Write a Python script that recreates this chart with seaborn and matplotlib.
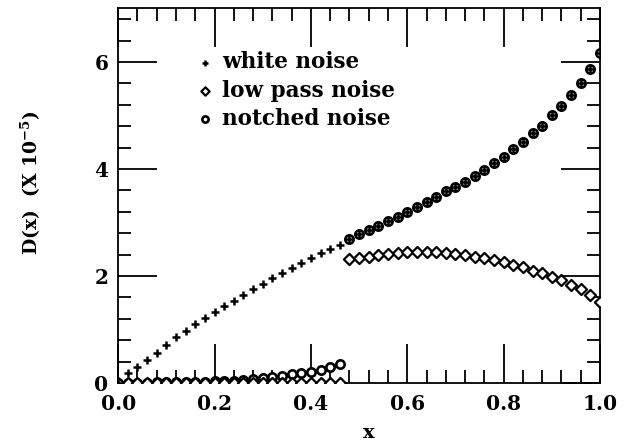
import numpy as np
import pandas as pd
import seaborn as sns
import matplotlib.pyplot as plt
from matplotlib.ticker import MultipleLocator

# x grid (step 0.02)
x_vals = [0.00, 0.02, 0.04, 0.06, 0.08, 0.10, 0.12, 0.14, 0.16, 0.18,
          0.20, 0.22, 0.24, 0.26, 0.28, 0.30, 0.32, 0.34, 0.36, 0.38,
          0.40, 0.42, 0.44, 0.46, 0.48, 0.50, 0.52, 0.54, 0.56, 0.58,
          0.60, 0.62, 0.64, 0.66, 0.68, 0.70, 0.72, 0.74, 0.76, 0.78,
          0.80, 0.82, 0.84, 0.86, 0.88, 0.90, 0.92, 0.94, 0.96, 0.98, 1.00]

white_noise = [0.00, 0.18, 0.30, 0.43, 0.56, 0.71, 0.86, 0.98, 1.10, 1.22,
               1.33, 1.44, 1.54, 1.64, 1.75, 1.85, 1.96, 2.05, 2.14, 2.24,
               2.34, 2.42, 2.50, 2.58, 2.69, 2.78, 2.86, 2.93, 3.03, 3.11,
               3.20, 3.28, 3.38, 3.48, 3.58, 3.66, 3.76, 3.87, 3.98, 4.11,
               4.23, 4.37, 4.51, 4.67, 4.81, 5.00, 5.18, 5.38, 5.61, 5.87, 6.16]

low_pass_noise = [0.00, 0.00, 0.00, 0.00, 0.00, 0.00, 0.00, 0.00, 0.00, 0.00,
                  0.00, 0.00, 0.00, 0.00, 0.00, 0.00, 0.00, 0.00, 0.00, 0.00,
                  0.00, 0.00, 0.00, 0.00, 2.31, 2.34, 2.36, 2.39, 2.41, 2.43,
                  2.44, 2.45, 2.45, 2.44, 2.42, 2.41, 2.39, 2.36, 2.33, 2.29,
                  2.26, 2.21, 2.16, 2.10, 2.05, 1.99, 1.93, 1.83, 1.75, 1.64, 1.52]

notched_noise = [0.00, 0.00, 0.00, 0.00, 0.01, 0.01, 0.01, 0.01, 0.02, 0.02,
                 0.03, 0.03, 0.04, 0.05, 0.07, 0.09, 0.11, 0.13, 0.16, 0.18,
                 0.21, 0.25, 0.30, 0.36, 2.69, 2.78, 2.86, 2.93, 3.03, 3.11,
                 3.20, 3.28, 3.38, 3.48, 3.58, 3.66, 3.76, 3.87, 3.98, 4.11,
                 4.23, 4.37, 4.51, 4.67, 4.81, 5.00, 5.18, 5.38, 5.61, 5.87, 6.16]

df = pd.DataFrame({"x": x_vals, "white": white_noise,
                   "lowpass": low_pass_noise, "notched": notched_noise})

sns.set_style("ticks")
plt.rcParams['font.family'] = ['DejaVu Serif']
plt.rcParams['font.weight'] = 'bold'
plt.rcParams['mathtext.fontset'] = 'dejavuserif'
plt.rcParams['mathtext.default'] = 'bf'
plt.rcParams['text.color'] = 'black'
plt.rcParams['axes.labelcolor'] = 'black'
plt.rcParams['xtick.color'] = 'black'
plt.rcParams['ytick.color'] = 'black'

fig = plt.figure(figsize=(6.25, 4.47), dpi=100)
ax = fig.add_axes([0.189, 0.1432, 0.771, 0.838])

sns.scatterplot(x="x", y="notched", data=df, ax=ax, marker="o", s=36,
                facecolor="white", edgecolor="black", linewidth=1.9,
                label="notched noise", zorder=3)
sns.scatterplot(x="x", y="lowpass", data=df, ax=ax, marker="D", s=32,
                facecolor="white", edgecolor="black", linewidth=1.6,
                label="low pass noise", zorder=4)
sns.scatterplot(x="x", y="white", data=df, ax=ax, marker="+", s=40,
                color="black", linewidth=1.8,
                label="white noise", zorder=5)

ax.set_xlim(0, 1.0)
ax.set_ylim(0, 7)
ax.xaxis.set_minor_locator(MultipleLocator(0.04))
ax.yaxis.set_minor_locator(MultipleLocator(0.4))
ax.set_xticks([0, 0.2, 0.4, 0.6, 0.8, 1.0])
ax.set_xticklabels(["0.0", "0.2", "0.4", "0.6", "0.8", "1.0"])
ax.set_yticks([0, 2, 4, 6])
ax.set_yticklabels(["0", "2", "4", "6"])

ax.tick_params(which="both", direction="in", top=True, right=True,
               color="black", labelcolor="black", width=1.3, labelsize=14.5)
ax.tick_params(which="major", length=28)
ax.tick_params(which="minor", length=9.5)
ax.tick_params(axis="x", which="major", pad=8)
ax.tick_params(axis="y", which="major", pad=7)
for sp in ax.spines.values():
    sp.set_linewidth(1.3)
    sp.set_color("black")

ax.set_xlabel("x", fontsize=14, fontweight="bold", color="black")
ax.xaxis.label.set_va("baseline")
ax.xaxis.set_label_coords(0.52, -0.147)
ax.set_ylabel(r"D(x)  (X 10$^{-5}$)", fontsize=13.5, fontweight="bold", color="black")
ax.yaxis.set_label_coords(-0.156, 0.534)

handles, labels = ax.get_legend_handles_labels()
order = [2, 1, 0]
leg = ax.legend([handles[i] for i in order], [labels[i] for i in order],
                loc="upper left", bbox_to_anchor=(0.16, 0.885), frameon=False,
                borderpad=0, borderaxespad=0, handlelength=0.9, handletextpad=0.35,
                labelspacing=0.28, fontsize=15.5, markerscale=0.75)
for t in leg.get_texts():
    t.set_color("black")

fig.savefig("out.png", dpi=100)
